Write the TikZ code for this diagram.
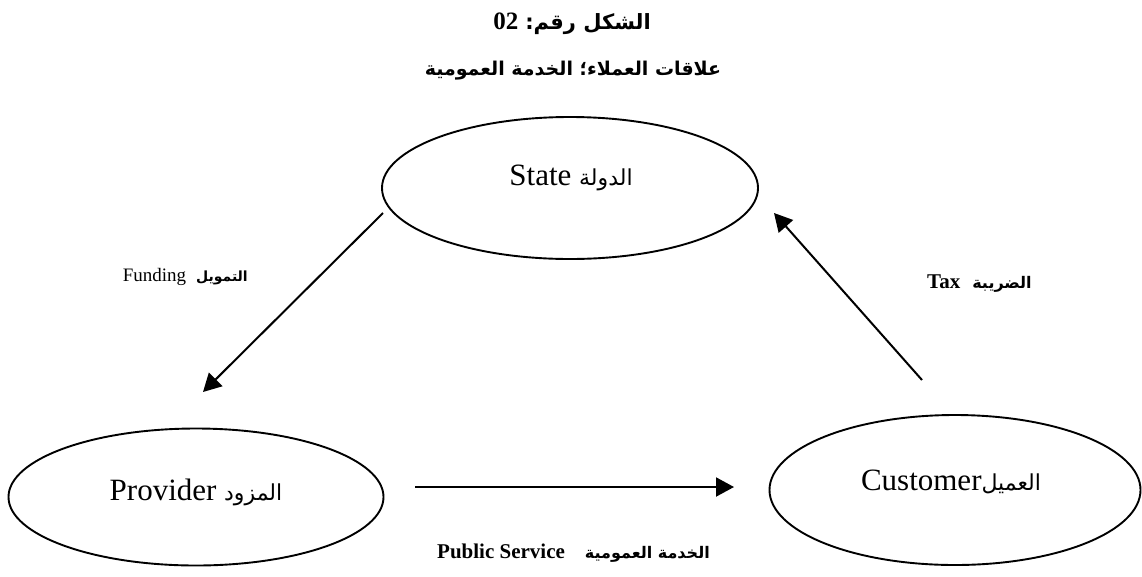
\documentclass[tikz,border=0pt]{standalone}
\usepackage{fontspec}
\setmainfont{Liberation Serif}
\newfontfamily\arabicfont[Script=Arabic]{DejaVu Sans}
\TeXXeTstate=1
\usetikzlibrary{shapes.geometric,arrows.meta}

\begin{document}
\begin{tikzpicture}[x=1pt,y=-1pt,
  oval/.style={draw, ellipse, line width=1.9pt, inner sep=0pt},
  flow/.style={line width=2pt, -{Triangle[length=18pt,width=19pt]}},
  nodetext/.style={anchor=base, font=\fontsize{31}{36}\selectfont, inner sep=0pt},
  edgetext/.style={font=\fontsize{21}{25}\selectfont, inner sep=0pt},
]
\useasboundingbox (0,0) rectangle (1142,576);

% heading (right-to-left: the number stands on the left)
\node[inner sep=0pt, anchor=base] (head1) at (572,29)
  {\bfseries\fontsize{25}{28}\selectfont 02\hspace{7pt}{\arabicfont\fontsize{21}{24}\selectfont\beginR الشكل رقم:\endR}};
\node[inner sep=0pt, anchor=base] (head2) at (573,75)
  {\arabicfont\bfseries\fontsize{19}{23}\selectfont\beginR علاقات العملاء؛ الخدمة العمومية\endR};

% the three parties
\node[oval, minimum width=376pt, minimum height=142pt] (state) at (570,188) {};
\node[oval, minimum width=375pt, minimum height=137pt] (provider) at (196,497) {};
\node[oval, minimum width=371pt, minimum height=150pt] (customer) at (955,490) {};

\node[nodetext] (statetxt) at (571,185) {State {\arabicfont\fontsize{22}{26}\selectfont\beginR الدولة\endR}};
\node[nodetext] (providertxt) at (196,500) {Provider {\arabicfont\fontsize{22}{26}\selectfont\beginR المزود\endR}};
\node[nodetext] (customertxt) at (951,490) {Customer{\arabicfont\fontsize{22}{26}\selectfont\beginR العميل\endR}};

% flows between the parties
\coordinate (fundA) at (383,213);
\coordinate (fundB) at (203,392);
\coordinate (taxA) at (922,380);
\coordinate (taxB) at (774,213);
\coordinate (svcA) at (415,487);
\coordinate (svcB) at (734,487);

\draw[flow] (fundA) -- (fundB);
\draw[flow] (taxA) -- (taxB);
\draw[flow] (svcA) -- (svcB);

% flow labels
\node[edgetext, anchor=base east] (fundtxt) at (248,281)
  {\fontsize{19}{23}\selectfont Funding\hspace{10pt}{\arabicfont\bfseries\fontsize{14}{18}\selectfont\beginR التمويل\endR}};
\node[edgetext, anchor=base west] (taxtxt) at (927,288)
  {\bfseries Tax\hspace{12pt}{\arabicfont\fontsize{16}{20}\selectfont\beginR الضريبة\endR}};
\node[edgetext, anchor=base west] (svctxt) at (437,558)
  {\bfseries Public Service\hspace{20pt}{\arabicfont\fontsize{16}{20}\selectfont\beginR الخدمة العمومية\endR}};
\end{tikzpicture}
\end{document}
